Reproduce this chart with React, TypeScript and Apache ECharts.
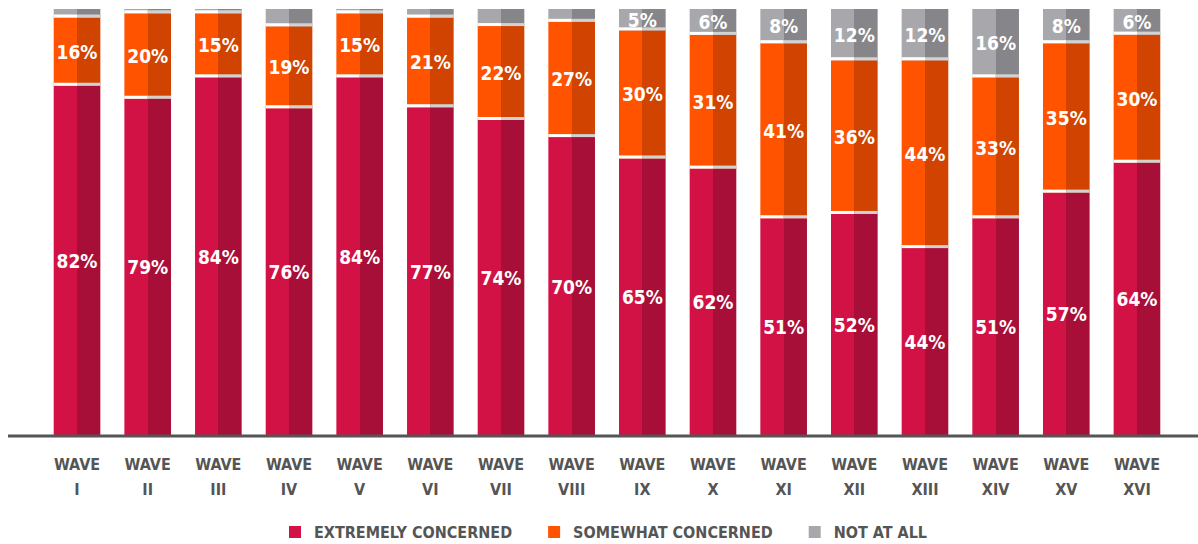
import React, { useEffect, useRef } from "react";
import * as echarts from "echarts";

const waves = ["I", "II", "III", "IV", "V", "VI", "VII", "VIII", "IX", "X", "XI", "XII", "XIII", "XIV", "XV", "XVI"];
const extremely = [82, 79, 84, 76, 84, 77, 74, 70, 65, 62, 51, 52, 44, 51, 57, 64];
const somewhat = [16, 20, 15, 19, 15, 21, 22, 27, 30, 31, 41, 36, 44, 33, 35, 30];
const notAtAll = [2, 1, 1, 4, 1, 2, 4, 3, 5, 6, 8, 12, 12, 16, 8, 6];
const seriesNames = ["EXTREMELY CONCERNED", "SOMEWHAT CONCERNED", "NOT AT ALL"];
const legendColors = ["#D21245", "#FF5300", "#A8A8AC"];

const FONT = "'Liberation Sans Narrow', 'DejaVu Sans Condensed', 'Open Sans', sans-serif";

function twoTone(a: string, b: string) {
  return new echarts.graphic.LinearGradient(0, 0, 1, 0, [
    { offset: 0, color: a },
    { offset: 0.5, color: a },
    { offset: 0.5, color: b },
    { offset: 1, color: b },
  ]);
}

export default function App() {
  const ref = useRef<HTMLDivElement>(null);
  useEffect(() => {
    document.body.style.margin = "0";
    const chart = echarts.init(ref.current!, null, { renderer: "svg" });
    const totals = waves.map((_, i) => extremely[i] + somewhat[i] + notAtAll[i]);
    const labelBase = {
      show: true,
      position: "inside",
      color: "#fff",
      fontWeight: "bold",
      fontSize: 19,
      fontFamily: FONT,
    };
    const makeData = (arr: number[], minShow: number) =>
      arr.map((v, i) => ({
        value: (v / totals[i]) * 100,
        label: { show: v >= minShow, formatter: v + "%" },
      }));
    const barW = "66%";
    const sepData = waves.map((_, i) => [
      i,
      (extremely[i] / totals[i]) * 100,
      ((extremely[i] + somewhat[i]) / totals[i]) * 100,
    ]);
    const option: any = {
      animation: false,
      grid: { left: 41.7, right: 25.7, top: 9, bottom: 108 },
      legend: {
        data: seriesNames.map((n, i) => ({ name: n, itemStyle: { color: legendColors[i] } })),
        top: 524,
        left: 289,
        padding: 0,
        icon: "rect",
        itemWidth: 12,
        itemHeight: 12,
        itemGap: 36,
        selectedMode: false,
        textStyle: { color: "#555", fontWeight: "bold", fontSize: 16, fontFamily: FONT, padding: [0, 0, 0, 8] },
      },
      xAxis: {
        type: "category",
        data: waves,
        axisLine: { show: false },
        axisTick: { show: false },
        axisLabel: {
          interval: 0,
          formatter: (v: string) => "WAVE\n" + v,
          color: "#555",
          fontWeight: "bold",
          fontSize: 16,
          lineHeight: 25,
          fontFamily: FONT,
          margin: 16,
        },
      },
      yAxis: { type: "value", min: 0, max: 100, show: false },
      graphic: [
        {
          type: "line",
          shape: { x1: 8, y1: 436, x2: 1198, y2: 436 },
          style: { stroke: "#555", lineWidth: 3 },
          z: 10,
        },
      ],
      series: [
        {
          name: seriesNames[0],
          type: "bar",
          stack: "s",
          barWidth: barW,
          itemStyle: { color: twoTone("#D21245", "#A80F38") },
          label: labelBase,
          data: makeData(extremely, 0),
        },
        {
          name: seriesNames[1],
          type: "bar",
          stack: "s",
          barWidth: barW,
          itemStyle: { color: twoTone("#FF5300", "#D04300") },
          label: labelBase,
          data: makeData(somewhat, 0),
        },
        {
          name: seriesNames[2],
          type: "bar",
          stack: "s",
          barWidth: barW,
          itemStyle: { color: twoTone("#A8A8AC", "#86868A") },
          label: labelBase,
          data: makeData(notAtAll, 5),
        },
        {
          type: "custom",
          z: 5,
          silent: true,
          data: sepData,
          encode: { x: 0, y: [1, 2] },
          renderItem: (params: any, api: any) => {
            const idx = api.value(0);
            const w = api.size([1, 0])[0] * 0.66;
            const children: any[] = [];
            [1, 2].forEach((k) => {
              const p = api.coord([idx, api.value(k)]);
              const x0 = p[0] - w / 2;
              const y0 = p[1] - 3;
              children.push({ type: "rect", shape: { x: x0, y: y0, width: w / 2, height: 3 }, style: { fill: "#fff" } });
              children.push({ type: "rect", shape: { x: x0 + w / 2, y: y0, width: w / 2, height: 3 }, style: { fill: "#D2D2D2" } });
            });
            return { type: "group", children };
          },
        },
      ],
    };
    chart.setOption(option);
    return () => chart.dispose();
  }, []);
  return <div ref={ref} style={{ width: 1198, height: 544 }} />;
}
